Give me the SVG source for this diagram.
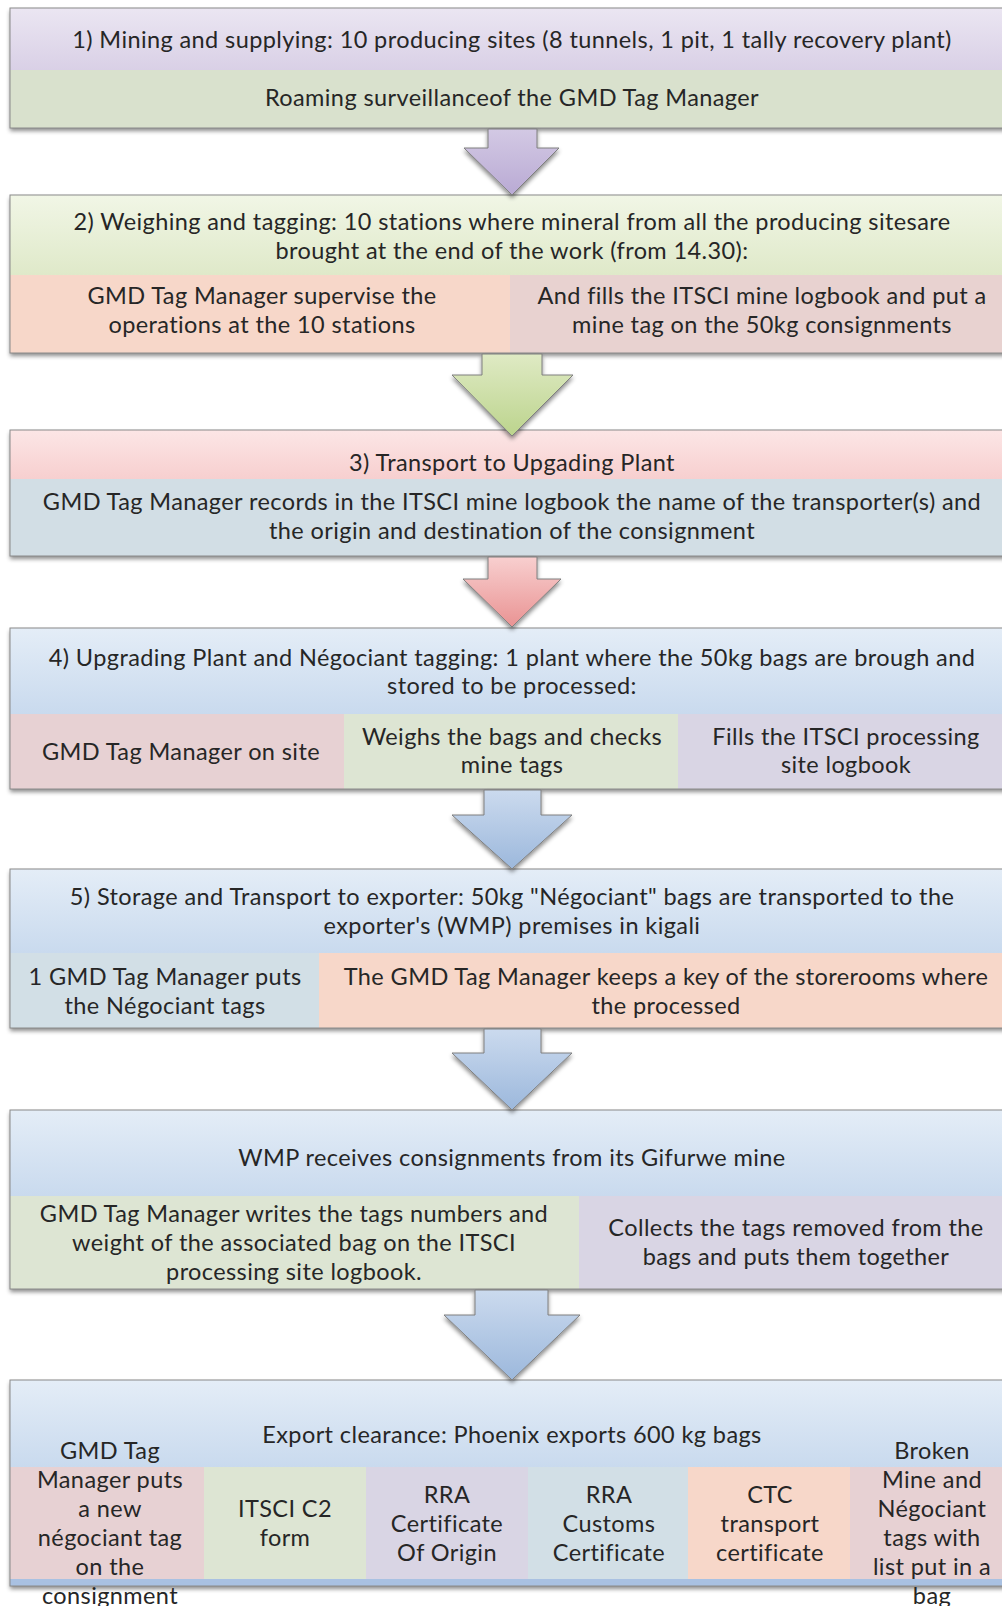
<svg xmlns="http://www.w3.org/2000/svg" width="1002" height="1606" viewBox="0 0 1002 1606">
<defs>
<linearGradient id="gPurple" x1="0" y1="0" x2="0" y2="1"><stop offset="0" stop-color="#ebe6f2"/><stop offset="1" stop-color="#d9d0e6"/></linearGradient>
<linearGradient id="gGreen" x1="0" y1="0" x2="0" y2="1"><stop offset="0" stop-color="#f1f6e6"/><stop offset="1" stop-color="#dfe9c9"/></linearGradient>
<linearGradient id="gPink" x1="0" y1="0" x2="0" y2="1"><stop offset="0" stop-color="#fce6e6"/><stop offset="1" stop-color="#f7cfcf"/></linearGradient>
<linearGradient id="gBlue" x1="0" y1="0" x2="0" y2="1"><stop offset="0" stop-color="#e4edf7"/><stop offset="1" stop-color="#c9daee"/></linearGradient>
<linearGradient id="aPurple" x1="0" y1="0" x2="0" y2="1"><stop offset="0" stop-color="#d3c9e4"/><stop offset="1" stop-color="#b9aad4"/></linearGradient>
<linearGradient id="aGreen" x1="0" y1="0" x2="0" y2="1"><stop offset="0" stop-color="#dfeac4"/><stop offset="1" stop-color="#bcd48d"/></linearGradient>
<linearGradient id="aRed" x1="0" y1="0" x2="0" y2="1"><stop offset="0" stop-color="#f8cfcf"/><stop offset="1" stop-color="#e99393"/></linearGradient>
<linearGradient id="aBlue" x1="0" y1="0" x2="0" y2="1"><stop offset="0" stop-color="#cbdaee"/><stop offset="1" stop-color="#9cb8dc"/></linearGradient>
<filter id="sh" x="-5%" y="-5%" width="110%" height="120%"><feDropShadow dx="0" dy="3" stdDeviation="2" flood-color="#000" flood-opacity="0.45"/></filter>
</defs>
<style>
text{font-family:"Lato","Liberation Sans",sans-serif;font-size:23.5px;letter-spacing:0.4px;fill:#262626;text-anchor:middle}
.frame{fill:none;stroke:#8a8a8a;stroke-width:1}
.arrow{stroke:#7f7f7f;stroke-width:1;filter:url(#sh)}
.c-salmon{fill:#f7d7c9}
.c-rose{fill:#e8d2d0}
.c-pinkcell{fill:#e7d1d3}
.c-greencell{fill:#dde5d3}
.c-lav{fill:#d9d5e4}
.c-bluegray{fill:#d2dfe6}
.c-sage{fill:#d9e1cd}
</style>

<g id="step1">
<rect x="10" y="8" width="1004" height="120" fill="#fff" filter="url(#sh)"/>
<rect x="10" y="8" width="1004" height="62" fill="url(#gPurple)"/>
<rect x="10" y="70" width="1004" height="58" class="c-sage"/>
<rect x="10" y="8" width="1004" height="120" class="frame"/>
<text x="512" y="48">1) Mining and supplying: 10 producing sites (8 tunnels, 1 pit, 1 tally recovery plant)</text>
<text x="512" y="106">Roaming surveillanceof the GMD Tag Manager</text>
</g>

<g id="step2">
<rect x="10" y="195" width="1004" height="158" fill="#fff" filter="url(#sh)"/>
<rect x="10" y="195" width="1004" height="80" fill="url(#gGreen)"/>
<rect x="10" y="275" width="500" height="78" class="c-salmon"/>
<rect x="510" y="275" width="504" height="78" class="c-rose"/>
<rect x="10" y="195" width="1004" height="158" class="frame"/>
<text x="512" y="230">2) Weighing and tagging: 10 stations where mineral from all the producing sitesare</text>
<text x="512" y="259">brought at the end of the work (from 14.30):</text>
<text x="262" y="304">GMD Tag Manager supervise the</text>
<text x="262" y="333">operations at the 10 stations</text>
<text x="762" y="304">And fills the ITSCI mine logbook and put a</text>
<text x="762" y="333">mine tag on the 50kg consignments</text>
</g>

<g id="step3">
<rect x="10" y="430" width="1004" height="126" fill="#fff" filter="url(#sh)"/>
<rect x="10" y="430" width="1004" height="49" fill="url(#gPink)"/>
<rect x="10" y="479" width="1004" height="77" fill="#d2dee5"/>
<rect x="10" y="430" width="1004" height="126" class="frame"/>
<text x="512" y="471">3) Transport to Upgading Plant</text>
<text x="512" y="510">GMD Tag Manager records in the ITSCI mine logbook the name of the transporter(s) and</text>
<text x="512" y="539">the origin and destination of the consignment</text>
</g>

<g id="step4">
<rect x="10" y="628" width="1004" height="161" fill="#fff" filter="url(#sh)"/>
<rect x="10" y="628" width="1004" height="86" fill="url(#gBlue)"/>
<rect x="10" y="714" width="334" height="75" class="c-pinkcell"/>
<rect x="344" y="714" width="334" height="75" class="c-greencell"/>
<rect x="678" y="714" width="336" height="75" class="c-lav"/>
<rect x="10" y="628" width="1004" height="161" class="frame"/>
<text x="512" y="666">4) Upgrading Plant and Négociant tagging: 1 plant where the 50kg bags are brough and</text>
<text x="512" y="694">stored to be processed:</text>
<text x="181" y="760">GMD Tag Manager on site</text>
<text x="512" y="745">Weighs the bags and checks</text>
<text x="512" y="773">mine tags</text>
<text x="846" y="745">Fills the ITSCI processing</text>
<text x="846" y="773">site logbook</text>
</g>

<g id="step5">
<rect x="10" y="869" width="1004" height="159" fill="#fff" filter="url(#sh)"/>
<rect x="10" y="869" width="1004" height="84" fill="url(#gBlue)"/>
<rect x="10" y="953" width="309" height="75" class="c-bluegray"/>
<rect x="319" y="953" width="695" height="75" class="c-salmon"/>
<rect x="10" y="869" width="1004" height="159" class="frame"/>
<text x="512" y="905">5) Storage and Transport to exporter: 50kg "Négociant" bags are transported to the</text>
<text x="512" y="934">exporter's (WMP) premises in kigali</text>
<text x="165" y="985">1 GMD Tag Manager puts</text>
<text x="165" y="1014">the Négociant tags</text>
<text x="666" y="985">The GMD Tag Manager keeps a key of the storerooms where</text>
<text x="666" y="1014">the processed</text>
</g>

<g id="step6">
<rect x="10" y="1110" width="1004" height="179" fill="#fff" filter="url(#sh)"/>
<rect x="10" y="1110" width="1004" height="86" fill="url(#gBlue)"/>
<rect x="10" y="1196" width="569" height="93" class="c-greencell"/>
<rect x="579" y="1196" width="435" height="93" class="c-lav"/>
<rect x="10" y="1110" width="1004" height="179" class="frame"/>
<text x="512" y="1166">WMP receives consignments from its Gifurwe mine</text>
<text x="294" y="1222">GMD Tag Manager writes the tags numbers and</text>
<text x="294" y="1251">weight of the associated bag on the ITSCI</text>
<text x="294" y="1280">processing site logbook.</text>
<text x="796" y="1236">Collects the tags removed from the</text>
<text x="796" y="1265">bags and puts them together</text>
</g>

<g id="step7">
<rect x="10" y="1380" width="1004" height="206" fill="#fff" filter="url(#sh)"/>
<rect x="10" y="1380" width="1004" height="87" fill="url(#gBlue)"/>
<rect x="10" y="1467" width="194" height="112" class="c-pinkcell"/>
<rect x="204" y="1467" width="162" height="112" class="c-greencell"/>
<rect x="366" y="1467" width="162" height="112" class="c-lav"/>
<rect x="528" y="1467" width="160" height="112" class="c-bluegray"/>
<rect x="688" y="1467" width="162" height="112" class="c-salmon"/>
<rect x="850" y="1467" width="164" height="112" class="c-pinkcell"/>
<rect x="10" y="1579" width="1004" height="7" fill="#a9c1e2"/>
<rect x="10" y="1380" width="1004" height="206" class="frame"/>
<text x="512" y="1443">Export clearance: Phoenix exports 600 kg bags</text>
<text x="110" y="1459">GMD Tag</text>
<text x="110" y="1488">Manager puts</text>
<text x="110" y="1517">a new</text>
<text x="110" y="1546">négociant tag</text>
<text x="110" y="1575">on the</text>
<text x="110" y="1604">consignment</text>
<text x="285" y="1517">ITSCI C2</text>
<text x="285" y="1546">form</text>
<text x="447" y="1503">RRA</text>
<text x="447" y="1532">Certificate</text>
<text x="447" y="1561">Of Origin</text>
<text x="609" y="1503">RRA</text>
<text x="609" y="1532">Customs</text>
<text x="609" y="1561">Certificate</text>
<text x="770" y="1503">CTC</text>
<text x="770" y="1532">transport</text>
<text x="770" y="1561">certificate</text>
<text x="932" y="1459">Broken</text>
<text x="932" y="1488">Mine and</text>
<text x="932" y="1517">Négociant</text>
<text x="932" y="1546">tags with</text>
<text x="932" y="1575">list put in a</text>
<text x="932" y="1604">bag</text>
</g>

<g id="connectors">
<polygon class="arrow" fill="url(#aPurple)" points="488,129 537,129 537,148 559,148 512,195 464,148 488,148"/>
<polygon class="arrow" fill="url(#aGreen)" points="482,354 542,354 542,375 573,375 512,436 452,375 482,375"/>
<polygon class="arrow" fill="url(#aRed)" points="488,557 537,557 537,579 561,579 512,627 463,579 488,579"/>
<polygon class="arrow" fill="url(#aBlue)" points="484,790 541,790 541,815 572,815 512,869 452,815 484,815"/>
<polygon class="arrow" fill="url(#aBlue)" points="484,1029 541,1029 541,1053 572,1053 512,1110 452,1053 484,1053"/>
<polygon class="arrow" fill="url(#aBlue)" points="475,1290 548,1290 548,1315 580,1315 512,1380 444,1315 475,1315"/>
</g>
</svg>
